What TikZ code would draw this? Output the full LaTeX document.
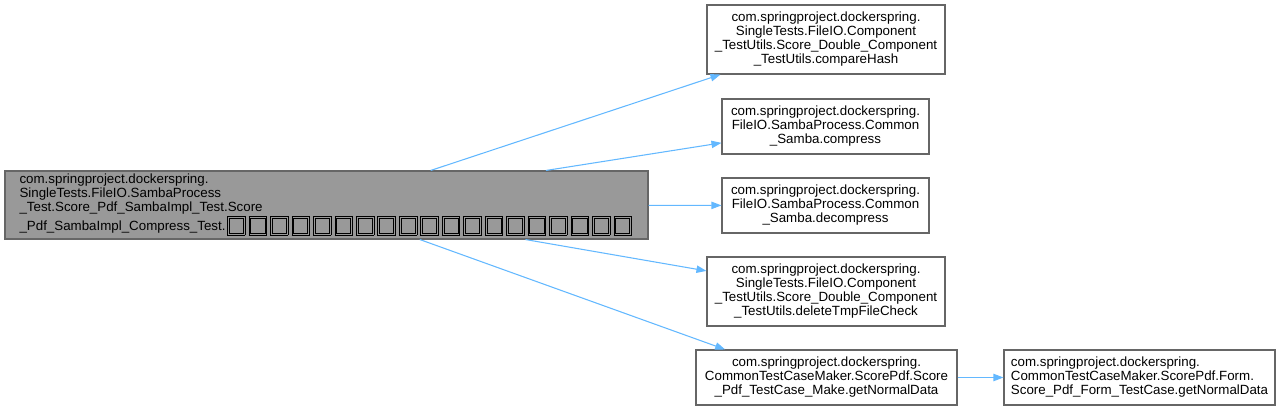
\documentclass[tikz,border=0pt]{standalone}
\usepackage{fontspec}
\setmainfont{Liberation Sans}
\usepackage{xcolor}
\usetikzlibrary{arrows.meta,positioning}
\definecolor{callblue}{RGB}{99,184,255}
\definecolor{boxgray}{RGB}{153,153,153}
\definecolor{edgegray}{RGB}{102,102,102}

% box drawn for a glyph that the original font did not have
\newcommand{\tofubox}{\kern1.2pt{\fboxsep=0.8pt\fboxrule=0.5pt\fbox{\fbox{\rule[-1.5pt]{0pt}{9.5pt}\kern8.5pt}}}\kern1.2pt}
\newcommand{\tofurow}{\foreach \k in {1,...,19}{\tofubox}}

\begin{document}
\begin{tikzpicture}[x=0.75pt, y=-0.75pt,
  every node/.style={font=\fontsize{10}{10.5}\selectfont, inner sep=0pt},
  fn/.style={draw=edgegray, fill=white, line width=0.8pt, align=center, minimum height=41.25pt},
  call/.style={-{Triangle[length=7.5pt,width=5.5pt]}, callblue, line width=0.8pt}]
  \useasboundingbox (0,0) rectangle (1280,411);
  \node[fn, fill=boxgray, align=left, minimum width=482.25pt, minimum height=51pt] (main) at (326.5,205) {com.springproject.dockerspring.\\SingleTests.FileIO.SambaProcess\\\_Test.Score\_Pdf\_SambaImpl\_Test.Score\\\_Pdf\_SambaImpl\_Compress\_Test.\tofurow};
  \node[fn, minimum width=178.5pt, minimum height=51.75pt] (hash) at (826,39.5) {com.springproject.dockerspring.\\SingleTests.FileIO.Component\\\_TestUtils.Score\_Double\_Component\\\_TestUtils.compareHash};
  \node[fn, minimum width=155.25pt] (comp) at (825.5,126.5) {com.springproject.dockerspring.\\FileIO.SambaProcess.Common\\\_Samba.compress};
  \node[fn, minimum width=155.25pt] (decomp) at (825.5,205.5) {com.springproject.dockerspring.\\FileIO.SambaProcess.Common\\\_Samba.decompress};
  \node[fn, minimum width=178.5pt, minimum height=51.75pt] (tmpchk) at (826,291.5) {com.springproject.dockerspring.\\SingleTests.FileIO.Component\\\_TestUtils.Score\_Double\_Component\\\_TestUtils.deleteTmpFileCheck};
  \node[fn, minimum width=195.75pt] (make) at (826.5,377.5) {com.springproject.dockerspring.\\CommonTestCaseMaker.ScorePdf.Score\\\_Pdf\_TestCase\_Make.getNormalData};
  \node[fn, minimum width=203.25pt, align=left] (form) at (1139.5,377.5) {com.springproject.dockerspring.\\CommonTestCaseMaker.ScorePdf.Form.\\Score\_Pdf\_Form\_TestCase.getNormalData};
  \draw[call] (main) -- (hash);
  \draw[call] (main) -- (comp);
  \draw[call] (main) -- (decomp);
  \draw[call] (main) -- (tmpchk);
  \draw[call] ([xshift=70pt]main.south) -- ([xshift=-76pt]make.north);
  \draw[call] (make) -- (form);
\end{tikzpicture}
\end{document}
